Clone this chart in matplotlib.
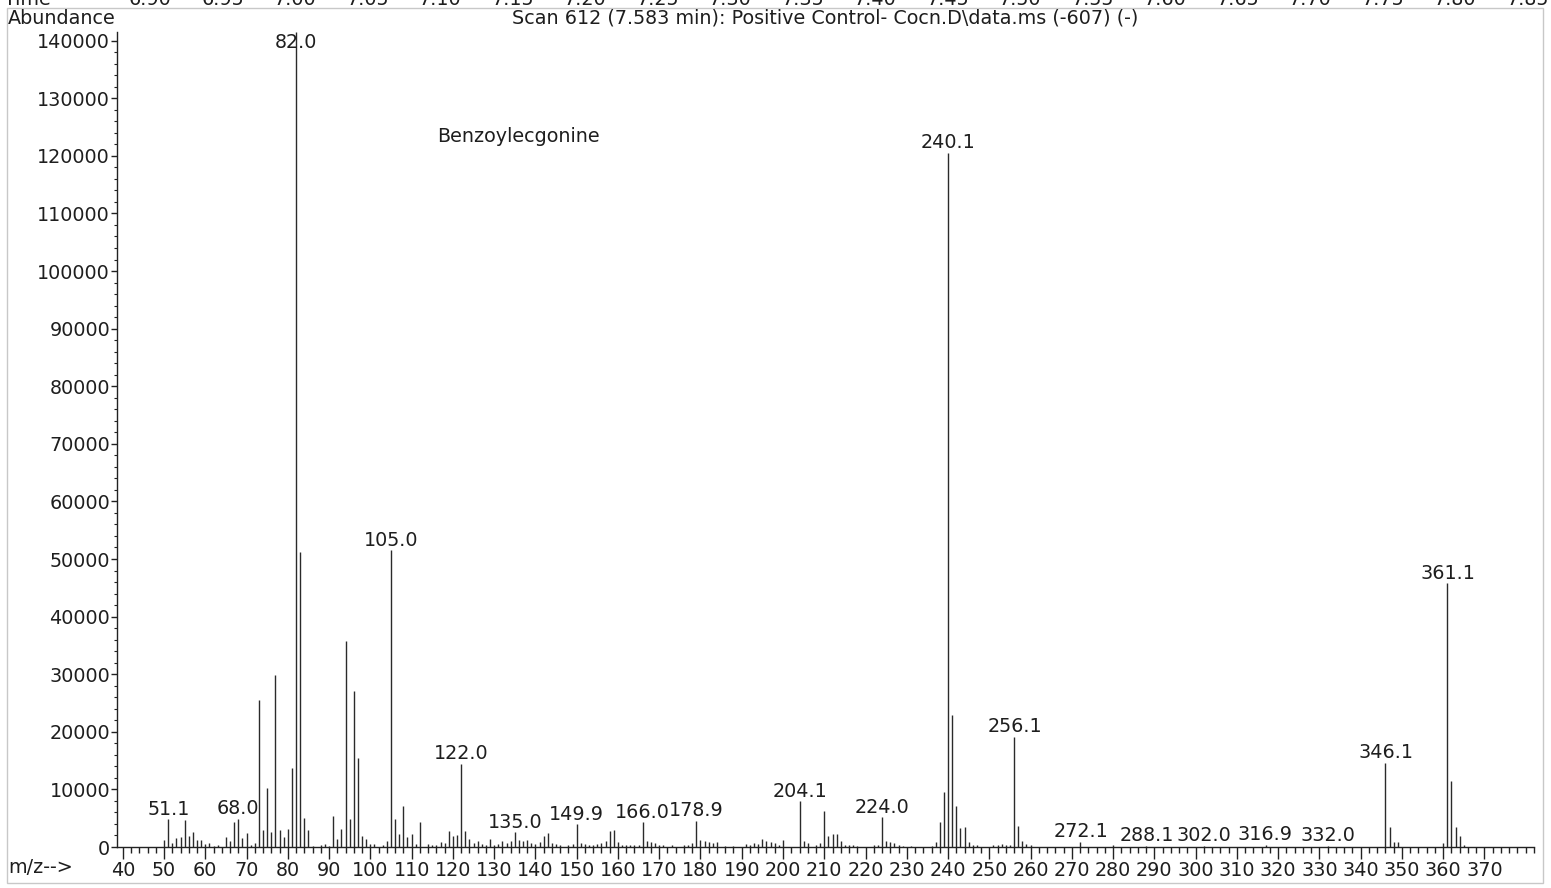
import matplotlib
matplotlib.use("Agg")
import matplotlib.pyplot as plt
from matplotlib.ticker import MultipleLocator, FixedLocator, FuncFormatter
from matplotlib.patches import Rectangle

plt.rcParams['font.family'] = ['DejaVu Sans']

# ---------------- data ----------------
mz = [50, 51, 52, 53, 54, 55, 56, 57, 58, 59, 60, 61, 62, 63, 65, 66, 67, 68, 69, 70,
      71, 72, 73, 74, 75, 76, 77, 78, 79, 80, 81, 82, 83, 84, 85, 86, 88, 89, 90, 91,
      92, 93, 94, 95, 96, 97, 98, 99, 100, 101, 103, 104, 105, 106, 107, 108, 109, 110, 111, 112,
      114, 115, 116, 117, 118, 119, 120, 121, 122, 123, 124, 125, 126, 127, 128, 129, 130, 131, 132, 133,
      134, 135, 136, 137, 138, 139, 140, 141, 142, 143, 144, 145, 146, 148, 149, 150, 151, 152, 153, 154,
      155, 156, 157, 158, 159, 160, 161, 162, 163, 164, 165, 166, 167, 168, 169, 170, 171, 173, 176, 177,
      178, 179, 180, 181, 182, 183, 184, 186, 188, 191, 192, 193, 194, 195, 196, 197, 198, 199, 200, 204,
      205, 206, 208, 209, 210, 211, 212, 213, 214, 215, 216, 217, 218, 222, 223, 224, 225, 226, 227, 228,
      229, 231, 236, 237, 238, 239, 240, 241, 242, 243, 244, 245, 246, 247, 251, 252, 253, 254, 255, 256,
      257, 258, 259, 260, 272, 280, 288, 302, 317, 332, 346, 347, 348, 349, 360, 361, 362, 363, 364, 365]

abundance = [1200, 4800, 750, 1500, 1800, 4750, 1850, 2660, 1150, 1150, 460, 750, 170, 290, 1680, 980, 4280, 4920, 1500, 2430,
             400, 750, 25500, 2900, 10300, 2550, 29800, 3000, 1740, 3070, 13720, 141500, 51300, 5100, 2900, 170, 350, 520, 230, 5330,
             1330, 3070, 35800, 4920, 27150, 15400, 1850, 1330, 520, 460, 350, 1100, 51500, 4800, 2300, 7060, 1700, 2200, 600, 4400,
             580, 350, 400, 900, 670, 2840, 1900, 2140, 14450, 2720, 1330, 700, 1100, 580, 400, 1450, 290, 580, 1040, 750,
             980, 2550, 1160, 980, 1270, 750, 580, 870, 1900, 2430, 700, 460, 290, 290, 520, 3940, 750, 520, 400, 400,
             520, 640, 1040, 2840, 2950, 870, 400, 290, 290, 290, 400, 4280, 1100, 870, 750, 400, 290, 400, 350, 400,
             640, 4570, 1270, 1100, 870, 640, 870, 200, 200, 580, 400, 750, 520, 1330, 1100, 810, 640, 400, 1270, 7900,
             1040, 750, 400, 640, 6200, 1850, 2320, 2320, 1040, 400, 350, 350, 230, 290, 400, 5150, 1100, 870, 640, 400,
             200, 200, 200, 810, 4340, 9550, 120500, 22900, 7120, 3360, 3530, 930, 400, 290, 350, 350, 460, 400, 350, 19100,
             3600, 980, 520, 400, 900, 350, 200, 200, 350, 200, 14660, 3470, 820, 820, 700, 45750, 11400, 3470, 1850, 290]

peak_labels = ["51.1", "68.0", "82.0", "105.0", "122.0", "135.0", "149.9", "166.0", "178.9", "204.1",
               "224.0", "240.1", "256.1", "272.1", "288.1", "302.0", "316.9", "332.0", "346.1", "361.1"]

x_tick_values = list(range(40, 371, 10))

time_labels = ["6.90", "6.95", "7.00", "7.05", "7.10", "7.15", "7.20", "7.25", "7.30", "7.35",
               "7.40", "7.45", "7.50", "7.55", "7.60", "7.65", "7.70", "7.75", "7.80", "7.85"]

title_text = "Scan 612 (7.583 min): Positive Control- Cocn.D\\data.ms (-607) (-)"
compound = "Benzoylecgonine"

# ---------------- figure ----------------
W, H = 1551, 888
fig = plt.figure(figsize=(W / 100, H / 100), dpi=100)
TXT = '#1e1e1e'
FS = 13.8

ax = fig.add_axes([117 / W, 1 - 847 / H, (1534 - 117) / W, (847 - 32) / H])
ax.vlines(mz, 0, abundance, color='#2a2a2a', lw=1.0)
ymax = max(abundance)
ax.set_xlim(38.6, 382)
ax.set_ylim(0, ymax)

for s in ('top', 'right'):
    ax.spines[s].set_visible(False)
for s in ('left', 'bottom'):
    ax.spines[s].set_color('#222222')
    ax.spines[s].set_linewidth(1.0)

ax.xaxis.set_major_locator(FixedLocator(x_tick_values))
ax.xaxis.set_minor_locator(MultipleLocator(2))
ax.yaxis.set_major_locator(MultipleLocator(10000))
ax.yaxis.set_minor_locator(MultipleLocator(2000))
ax.yaxis.set_major_formatter(FuncFormatter(lambda v, p: f"{int(v)}"))
ax.tick_params(axis='x', which='major', length=8.5, width=1.0, pad=1.5, labelsize=FS,
               colors='#222222', labelcolor=TXT)
ax.tick_params(axis='x', which='minor', length=4.5, width=1.0, colors='#222222')
ax.tick_params(axis='y', which='major', length=4, width=1.0, pad=1, labelsize=FS,
               colors='#222222', labelcolor=TXT)
ax.tick_params(axis='y', which='minor', length=2, width=0.8, colors='#222222')

# peak labels
for lab in peak_labels:
    x = float(lab)
    i = min(range(len(mz)), key=lambda k: abs(mz[k] - x))
    y = abundance[i]
    if y >= 0.97 * ymax:
        ax.annotate(lab, xy=(x, ymax), xytext=(0, -1), textcoords='offset points',
                    ha='center', va='top', fontsize=FS, color=TXT, annotation_clip=False)
    else:
        ax.annotate(lab, xy=(x, y), xytext=(0, 0.5), textcoords='offset points',
                    ha='center', va='bottom', fontsize=FS, color=TXT, annotation_clip=False)

ax.text(116.3, 123300, compound, ha='left', va='center', fontsize=FS, color=TXT)

# header / frame texts
fig.text(8 / W, 1 - 18 / H, "Abundance", ha='left', va='center', fontsize=FS, color=TXT)
fig.text(512 / W, 1 - 18 / H, title_text, ha='left', va='center', fontsize=FS, color=TXT)
fig.text(8 / W, 1 - 867 / H, "m/z-->", ha='left', va='center', fontsize=FS, color=TXT)

# cut-off time axis row at the very top (only its lower edge is visible, as in the original)
fig.text(4 / W, 1 - 5 / H, "Time", ha='left', va='baseline', fontsize=FS, color=TXT)
for k, t in enumerate(time_labels):
    fig.text((150 + 72.5 * k) / W, 1 - 5 / H, t, ha='center', va='baseline', fontsize=FS, color=TXT)

fig.patches.append(Rectangle((7 / W, 1 - 883 / H), (1543 - 7) / W, (883 - 8) / H,
                             transform=fig.transFigure, fill=False, edgecolor='#c8c8c8', lw=1.0))

fig.savefig("out.png", dpi=100, facecolor='white')
